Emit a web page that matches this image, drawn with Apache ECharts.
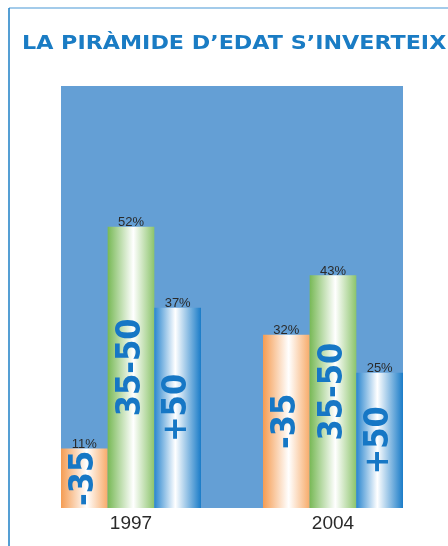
<!DOCTYPE html>
<html lang="ca">
<head>
    <meta charset="UTF-8">
    <title>La piràmide d'edat s'inverteix</title>
    <style>
        html, body { margin: 0; padding: 0; background: #fff; }
    </style>
</head>
<body>
<div id="main" style="width: 448px;height:546px;"></div>
</body>
<script src="https://cdn.jsdelivr.net/npm/echarts@6.0.0/dist/echarts.min.js"></script>
<script>

// data
const years = ['1997', '2004']
const groups = ['-35', '35-50', '+50']
const under35 = [11, 32]
const from35to50 = [52, 43]
const over50 = [37, 25]

const TITLE = 'LA PIRÀMIDE D’EDAT S’INVERTEIX'
const BLUE = '#1677c5'

let chartDom = document.getElementById('main');
let myChart = echarts.init(chartDom);
let option;

// horizontal gradient, white stripe in the middle of each bar
function barFill(left, right, mid) {
    return new echarts.graphic.LinearGradient(0, 0, 1, 0, [
        {offset: 0, color: left},
        {offset: mid, color: '#ffffff'},
        {offset: 1, color: right}
    ])
}

const fills = [
    barFill('#f59c52', '#f7ab6a', 0.55),
    barFill('#78b956', '#8cc46c', 0.55),
    barFill('#2a86cf', '#1a7cc8', 0.45)
]

function makeSeries(name, values, idx) {
    return {
        name: name,
        type: 'bar',
        data: values,
        barGap: '0%',
        barCategoryGap: '30.7%',
        itemStyle: {color: fills[idx]},
        label: {
            show: true,
            position: 'inside',
            rotate: 90,
            formatter: name,
            fontFamily: '"Liberation Sans Narrow", "DejaVu Sans Condensed", "Liberation Sans", sans-serif',
            fontWeight: 'bold',
            fontSize: 34,
            color: BLUE
        },
        markPoint: {
            symbol: 'rect',
            symbolSize: 1,
            itemStyle: {color: 'rgba(0,0,0,0)'},
            label: {
                show: true,
                position: 'top',
                distance: 0,
                offset: [0, 3],
                formatter: p => p.value + '%',
                fontFamily: '"Liberation Sans", Arial, sans-serif',
                fontSize: 13,
                color: '#2a2a2a'
            },
            data: values.map((v, i) => ({coord: [i, v], value: v}))
        }
    }
}

option = {
    animation: false,
    backgroundColor: '#ffffff',
    grid: {left: 30, right: 14, top: 86, bottom: 38},
    xAxis: {
        type: 'category',
        data: years,
        axisLine: {show: false},
        axisTick: {show: false},
        axisLabel: {
            margin: 6,
            fontFamily: '"Liberation Sans", Arial, sans-serif',
            fontSize: 19,
            color: '#2a2a2a'
        }
    },
    yAxis: {
        type: 'value',
        min: 0,
        max: 78,
        show: false
    },
    graphic: [
        // plot background
        {
            type: 'rect',
            z: -10,
            shape: {x: 61, y: 86, width: 342, height: 422},
            style: {fill: '#649fd5'}
        },
        // frame lines
        {
            type: 'line',
            shape: {x1: 9, y1: 8, x2: 448, y2: 8},
            style: {stroke: '#a3cbea', lineWidth: 2}
        },
        {
            type: 'line',
            shape: {x1: 9, y1: 8, x2: 9, y2: 546},
            style: {stroke: '#1c7fc6', lineWidth: 1.5}
        },
        {
            type: 'text',
            x: 22,
            y: 44,
            scaleX: 1.17,
            style: {
                text: TITLE,
                font: 'bold 19px "DejaVu Sans", sans-serif',
                fill: '#1a7cc4',
                verticalAlign: 'middle'
            }
        }
    ],
    series: [
        makeSeries(groups[0], under35, 0),
        makeSeries(groups[1], from35to50, 1),
        makeSeries(groups[2], over50, 2)
    ]
}

option && myChart.setOption(option);

</script>
</html>
